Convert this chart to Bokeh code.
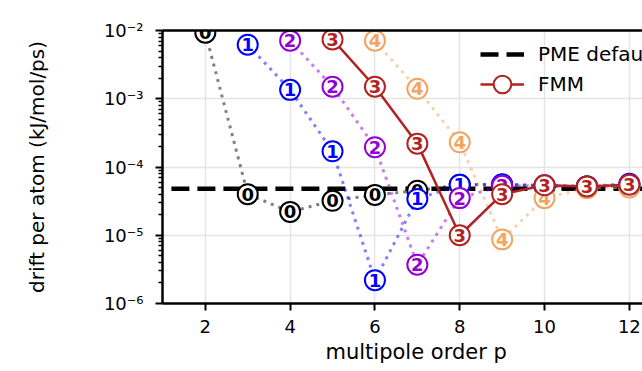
from bokeh.plotting import figure
from bokeh.models import (Range1d, FixedTicker, CustomJSTickFormatter, LinearAxis,
                          Legend, LegendItem, Title)
from bokeh.core.properties import value
from bokeh.embed import file_html
from bokeh.resources import INLINE

# ---- data ----
orders_0 = [2, 3, 4, 5, 6, 7, 8, 9, 10, 11, 12]
drift_0 = [9.3e-3, 4.0e-5, 2.2e-5, 3.2e-5, 3.9e-5, 4.5e-5, 5.5e-5, 5.5e-5, 5.2e-5, 5.2e-5, 5.3e-5]
orders_1 = [3, 4, 5, 6, 7, 8, 9, 10, 11, 12]
drift_1 = [6.2e-3, 1.35e-3, 1.7e-4, 2.2e-6, 3.4e-5, 5.5e-5, 5.6e-5, 5.4e-5, 5.2e-5, 5.7e-5]
orders_2 = [4, 5, 6, 7, 8, 9, 10, 11, 12]
drift_2 = [7.1e-3, 1.5e-3, 1.95e-4, 3.7e-6, 3.5e-5, 5.3e-5, 5.3e-5, 5.2e-5, 5.5e-5]
orders_3 = [5, 6, 7, 8, 9, 10, 11, 12]
drift_3 = [7.4e-3, 1.5e-3, 2.2e-4, 1.0e-5, 4.0e-5, 5.4e-5, 5.2e-5, 5.5e-5]
orders_4 = [6, 7, 8, 9, 10, 11, 12]
drift_4 = [7.1e-3, 1.4e-3, 2.3e-4, 8.7e-6, 3.5e-5, 4.9e-5, 5.0e-5]
pme_x = [1.2, 13.0]
pme_drift = [4.8e-5, 4.8e-5]

xticks = [2, 4, 6, 8, 10, 12]
ytick_values = [1e-6, 1e-5, 1e-4, 1e-3, 1e-2]
ytick_labels = ["10\u207b\u2076", "10\u207b\u2075", "10\u207b\u2074", "10\u207b\u00b3", "10\u207b\u00b2"]
yminor = [m * 10.0 ** e for e in range(-6, -2) for m in range(2, 10)]

FONT = "DejaVu Sans"

p = figure(width=642, height=371,
           x_range=Range1d(0.99, 12.31), y_range=Range1d(1e-6, 1e-2),
           y_axis_type="log", output_backend="svg", toolbar_location=None,
           min_border_left=162, min_border_right=0, min_border_top=30,
           min_border_bottom=68)
p.outline_line_color = None
p.background_fill_color = "white"
p.border_fill_color = "white"

# axes
for ax in (p.xaxis[0], p.yaxis[0]):
    ax.axis_line_width = 2.5
    ax.axis_line_color = "black"
    ax.major_tick_line_width = 2
    ax.major_tick_out = 7
    ax.major_tick_in = 0
    ax.minor_tick_line_width = 1.5
    ax.minor_tick_out = 4
    ax.minor_tick_in = 0
    ax.major_label_text_font = FONT
    ax.major_label_text_font_size = "18px"
    ax.major_label_text_color = "black"
    ax.axis_label_text_font = FONT
    ax.axis_label_text_font_style = "normal"
    ax.axis_label_text_color = "black"

xax = p.xaxis[0]
xax.ticker = FixedTicker(ticks=xticks, minor_ticks=[])
xax.major_label_standoff = 9

yax = p.yaxis[0]
yax.ticker = FixedTicker(ticks=ytick_values, minor_ticks=yminor)
yax.formatter = CustomJSTickFormatter(
    args=dict(vals=ytick_values, labs=ytick_labels),
    code="""
const i = vals.findIndex(t => Math.abs(Math.log10(t) - Math.log10(tick)) < 1e-6);
return i >= 0 ? labs[i] : '';
""")
yax.major_label_standoff = 12
yax.axis_label = "drift per atom (kJ/mol/ps)"
yax.axis_label_text_font_size = "20px"
yax.axis_label_standoff = 52

top = LinearAxis(ticker=FixedTicker(ticks=[]), major_label_text_font_size="0px",
                 major_tick_line_color=None, minor_tick_line_color=None,
                 axis_line_width=2.5, axis_line_color="black")
p.add_layout(top, "above")

# x-axis title (centred on the full original axes, which extend past the window)
p.add_layout(Title(text="multipole order p", align="left", offset=163, standoff=4,
                   text_font=FONT, text_font_size="21px", text_font_style="normal",
                   text_color="black"), "below")

p.grid.grid_line_color = "#e4e4e4"
p.grid.grid_line_width = 1.5

# reference line
pme_r = p.line(pme_x, pme_drift, line_color="black", line_width=4.5, line_dash="18 8")

series = [
    (orders_0, drift_0, "0", "black", False),
    (orders_1, drift_1, "1", "blue", False),
    (orders_2, drift_2, "2", "darkviolet", False),
    (orders_4, drift_4, "4", "sandybrown", False),
    (orders_3, drift_3, "3", "firebrick", True),
]
fmm = []
for xs, ys, lab, color, solid in series:
    if solid:
        ln = p.line(xs, ys, line_color=color, line_width=2.5)
    else:
        ln = p.line(xs, ys, line_color=color, line_alpha=0.5, line_width=3, line_dash="3 5")
    sc = p.scatter(xs, ys, size=20, marker="circle", fill_color="white",
                   line_color=color, line_width=2)
    p.text(xs, ys, text=value(lab), text_color=color, text_font=value(FONT),
           text_font_style="bold", text_font_size="18px",
           text_align="center", text_baseline="middle")
    if solid:
        fmm = [ln, sc]


def make_legend(label, renderers, vy):
    lg = Legend(items=[LegendItem(label=label, renderers=renderers)], location=(318, vy))
    lg.glyph_width = 44
    lg.glyph_height = 50
    lg.label_height = 50
    lg.padding = 0
    lg.margin = 0
    lg.spacing = 0
    lg.label_standoff = 14
    lg.label_text_font = FONT
    lg.label_text_font_size = "20px"
    lg.label_text_color = "black"
    lg.border_line_color = None
    lg.background_fill_alpha = 0
    return lg


p.add_layout(make_legend("PME default", [pme_r], 224))
p.add_layout(make_legend("FMM", fmm, 194))

open("out.html", "w").write(file_html(p, INLINE))
